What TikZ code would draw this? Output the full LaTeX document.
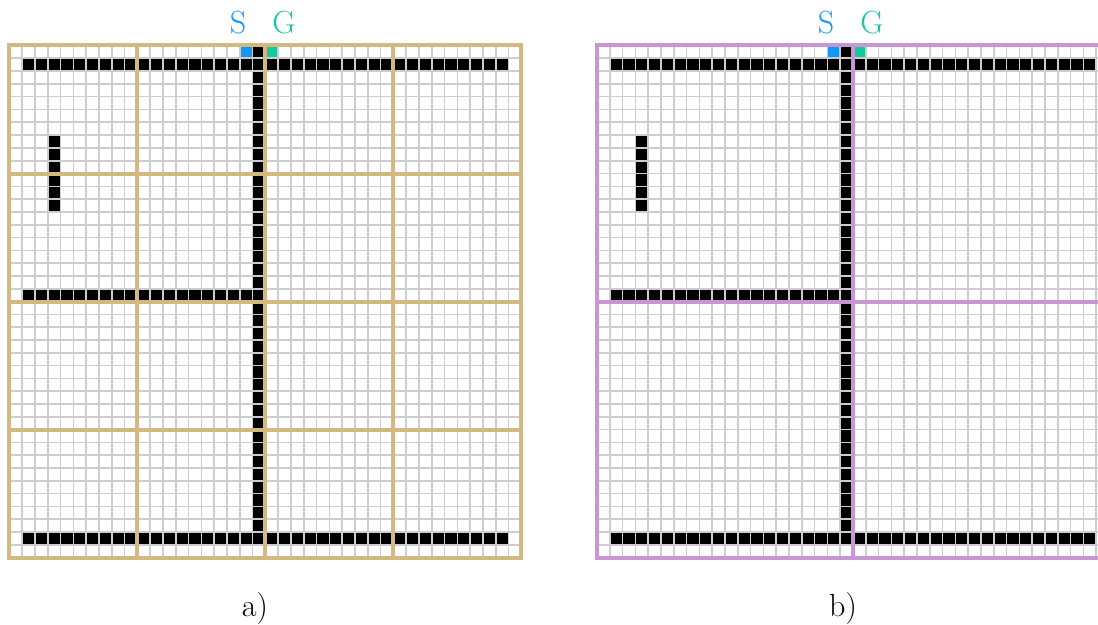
\documentclass[tikz,border=0pt]{standalone}
\definecolor{sblue}{RGB}{20,150,250}
\definecolor{gteal}{RGB}{20,200,160}
\definecolor{tanc}{RGB}{210,185,130}
\definecolor{purc}{RGB}{200,150,210}
\definecolor{gridc}{RGB}{205,205,205}
\newcommand{\wallcell}[2]{\fill[black] (#1,#2) rectangle ++(1,1);}
\newcommand{\drawmaze}{%
  \foreach \c in {1,...,38} {\wallcell{\c}{1}\wallcell{\c}{38}}
  \foreach \r in {0,...,37} {\wallcell{19}{\r}}
  \foreach \c in {1,...,18} {\wallcell{\c}{19}}
  \foreach \r in {7,...,12} {\wallcell{3}{\r}}
  \fill[sblue] (18,0) rectangle ++(1,1);
  \fill[gteal] (20,0) rectangle ++(1,1);
  \foreach \i in {0,...,40} {
    \draw[gridln] (\i,0) -- (\i,40);
    \draw[gridln] (0,\i) -- (40,\i);
  }
}
\begin{document}
\begin{tikzpicture}[x=0.75pt,y=-0.75pt,
  gridln/.style={draw=gridc,line width=1.2pt},
  blockln/.style={line width=3pt},
  lbl/.style={font=\fontsize{24}{28}\selectfont,inner sep=0pt,anchor=base}]
\useasboundingbox (0,0) rectangle (1098,624);
\fill[white] (0,0) rectangle (1098,624);
\clip (0,0) rectangle (1098,624);
% map a)
\begin{scope}[shift={(9.3,45.5)},x=9.6pt,y=-9.6pt]
  \drawmaze
  \foreach \i in {10,20,30} {
    \draw[blockln,tanc] (\i,0) -- (\i,40);
    \draw[blockln,tanc] (0,\i) -- (40,\i);
  }
  \draw[blockln,tanc] (0,0) rectangle (40,40);
\end{scope}
% map b)
\begin{scope}[shift={(597,45.5)},x=9.6pt,y=-9.6pt]
  \drawmaze
  \draw[blockln,purc] (20,0) -- (20,40);
  \draw[blockln,purc] (0,20) -- (40,20);
  \draw[blockln,purc] (0,0) rectangle (40,40);
\end{scope}
\node[lbl,text=sblue] (Sa) at (238,34) {S};
\node[lbl,text=gteal] (Ga) at (284,34) {G};
\node[lbl,text=sblue] (Sb) at (826,34) {S};
\node[lbl,text=gteal] (Gb) at (872,34) {G};
\node[lbl] (capa) at (255,616) {a)};
\node[lbl] (capb) at (843,616) {b)};
\end{tikzpicture}
\end{document}
